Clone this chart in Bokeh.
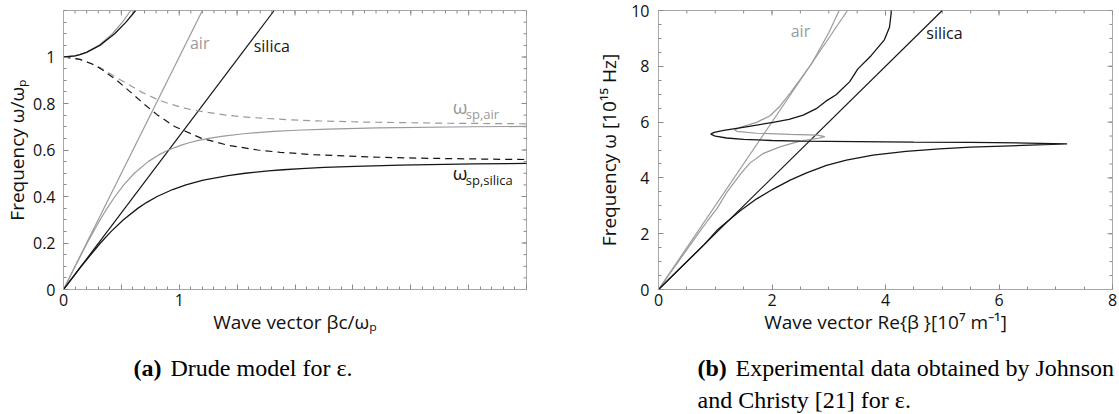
import math
from bokeh.plotting import figure
from bokeh.models import Label, FixedTicker, Range1d
from bokeh.layouts import row, column
from bokeh.embed import file_html
from bokeh.resources import INLINE

# ---------------- data: left panel (Drude model), x = beta c / omega_p, y = omega / omega_p
drude_light_air_x = [0.0, 1.2]
drude_light_air_y = [0.0, 1.2]
drude_light_silica_x = [0.0, 1.82]
drude_light_silica_y = [0.0, 1.2]

drude_spp_air_y = [0, 0.1, 0.2, 0.3, 0.35, 0.4, 0.45, 0.5, 0.55, 0.58, 0.6, 0.62, 0.63, 0.64,
                   0.65, 0.66, 0.67, 0.675, 0.68, 0.685, 0.69, 0.695, 0.70, 0.702]
drude_spp_air_x = [0, 0.1005, 0.2043, 0.316, 0.3773, 0.4446, 0.521, 0.612, 0.731, 0.826, 0.907,
                   1.0117, 1.0775, 1.1565, 1.2546, 1.3816, 1.556, 1.6717, 1.818, 2.0114, 2.284,
                   2.712, 3.535, 4.17]

drude_spp_silica_y = [0, 0.1, 0.2, 0.25, 0.3, 0.35, 0.375, 0.4, 0.43, 0.45, 0.47, 0.49, 0.5,
                      0.51, 0.515, 0.52, 0.525, 0.53, 0.535, 0.54, 0.543]
drude_spp_silica_x = [0, 0.1535, 0.319, 0.412, 0.5177, 0.644, 0.720, 0.809, 0.943, 1.058, 1.208,
                      1.4216, 1.570, 1.768, 1.8955, 2.053, 2.253, 2.522, 2.91, 3.548, 4.208]

drude_im_air_y = [1.0, 0.99, 0.97, 0.95, 0.9, 0.85, 0.82, 0.8, 0.78, 0.77, 0.75, 0.74, 0.73,
                  0.725, 0.72, 0.715, 0.7125]
drude_im_air_x = [0, 0.1425, 0.2511, 0.331, 0.498, 0.671, 0.799, 0.907, 1.048, 1.140, 1.403,
                  1.613, 1.945, 2.206, 2.604, 3.337, 4.04]

drude_im_silica_y = [1.0, 0.99, 0.97, 0.95, 0.9, 0.85, 0.8, 0.75, 0.7, 0.65, 0.62, 0.6, 0.59,
                     0.58, 0.57, 0.565, 0.56, 0.5585]
drude_im_silica_x = [0, 0.1417, 0.2465, 0.320, 0.460, 0.577, 0.690, 0.813, 0.965, 1.193, 1.424,
                     1.679, 1.873, 2.159, 2.644, 3.058, 3.768, 4.10]

drude_upper_y = [1.0, 1.005, 1.01, 1.02, 1.05, 1.1, 1.15, 1.2]
drude_upper_air_x = [0, 0.0996, 0.1404, 0.197, 0.306, 0.423, 0.509, 0.581]
drude_upper_silica_x = [0, 0.0999, 0.1412, 0.199, 0.314, 0.442, 0.540, 0.623]

left_xticks = [0, 0.5, 1, 1.5, 2, 2.5, 3, 3.5, 4]
left_xlabels = ["0", "", "1", "", "", "", "", "", ""]
left_yticks = [0, 0.2, 0.4, 0.6, 0.8, 1.0]
left_ylabels = ["0", "0.2", "0.4", "0.6", "0.8", "1"]

# ---------------- data: right panel (Johnson & Christy), x = Re(beta) [1e7 1/m], y = omega [1e15 Hz]
jc_light_air_x = [0.0, 3.33]
jc_light_air_y = [0.0, 10.0]
jc_light_silica_x = [0.0, 5.0]
jc_light_silica_y = [0.0, 10.0]

jc_spp_silica_x = [0, 0.5, 0.8, 1.03, 1.25, 1.44, 1.73, 2.02, 2.32, 2.61, 2.96, 3.31, 3.78, 4.36,
                   4.95, 5.5, 6.2, 6.8, 7.2,
                   6.5, 5.5, 4.5, 3.5, 2.5, 2.0, 1.5, 1.2, 1.0, 0.92, 0.98, 1.15, 1.32,
                   1.6, 2.02, 2.3, 2.55, 2.78, 2.95, 3.13, 3.37, 3.51, 3.75, 3.98, 4.07, 4.1, 4.1]
jc_spp_silica_y = [0, 1.0, 1.6, 2.12, 2.5, 2.82, 3.25, 3.6, 3.92, 4.18, 4.45, 4.64, 4.82, 4.95,
                   5.04, 5.1, 5.15, 5.19, 5.22,
                   5.25, 5.27, 5.28, 5.3, 5.32, 5.34, 5.38, 5.43, 5.5, 5.57, 5.63, 5.7, 5.76,
                   5.85, 5.99, 6.1, 6.25, 6.48, 6.75, 6.98, 7.45, 7.9, 8.39, 8.95, 9.4, 9.9, 10.2]

jc_spp_air_x = [0, 0.35, 0.7, 0.85, 1.03, 1.2, 1.45, 1.61, 1.85, 2.14, 2.49, 2.84, 2.93,
                2.8, 2.32, 1.73, 1.38, 1.34,
                1.44, 1.73, 1.96, 2.14, 2.32, 2.45, 2.7, 3.0, 3.23]
jc_spp_air_y = [0, 1.0, 2.0, 2.42, 2.9, 3.47, 4.15, 4.53, 4.88, 5.11, 5.32, 5.43, 5.48,
                5.53, 5.56, 5.6, 5.67, 5.72,
                5.81, 5.99, 6.22, 6.57, 7.04, 7.4, 8.1, 9.2, 10.2]

right_xticks = [0, 2, 4, 6, 8]
right_xlabels = ["0", "2", "4", "6", "8"]
right_yticks = [0, 2, 4, 6, 8, 10]
right_ylabels = ["0", "2", "4", "6", "8", "10"]

# ---------------- styling
BLACK = "#161616"
GRAY = "#9a9a9a"
FRAME = "#a8a8a8"
TICK = "#8a8a8a"
SANS = "Open Sans"
SERIF = "Liberation Serif"
DASH = "7 5"


def steps(lo, hi, step):
    n = int(round((hi - lo) / step))
    return [round(lo + i * step, 6) for i in range(n + 1)]


def style_axis(ax, ticks, minor, labels, standoff, title, title_standoff):
    ax.ticker = FixedTicker(ticks=ticks, minor_ticks=minor)
    ax.axis_line_color = FRAME
    ax.major_tick_line_color = TICK
    ax.minor_tick_line_color = TICK
    ax.major_tick_in = 5
    ax.major_tick_out = 0
    ax.minor_tick_in = 3
    ax.minor_tick_out = 0
    ax.major_label_overrides = {t: l for t, l in zip(ticks, labels)}
    ax.major_label_text_font = SANS
    ax.major_label_text_font_size = "16px"
    ax.major_label_text_color = "#111111"
    ax.major_label_standoff = standoff
    ax.axis_label = title
    ax.axis_label_text_font = SANS
    ax.axis_label_text_font_size = "19px"
    ax.axis_label_text_font_style = "normal"
    ax.axis_label_text_color = "#111111"
    ax.axis_label_standoff = title_standoff


def make_fig(width, height, xr, yr, bl, br, bt, bb):
    p = figure(width=width, height=height, x_range=Range1d(*xr), y_range=Range1d(*yr),
               output_backend="svg", toolbar_location=None,
               min_border_left=bl, min_border_right=br, min_border_top=bt, min_border_bottom=bb)
    p.grid.visible = False
    p.outline_line_color = FRAME
    p.background_fill_color = "white"
    p.border_fill_color = "white"
    return p


def frame_ticks(p, xt, xmin, yt, ymin, xmax, ymax):
    # inward ticks on the top and right edges of the frame (mirrors of the axes)
    p.ray(x=xt, y=[ymax] * len(xt), length=5, length_units="screen", angle=-math.pi / 2,
          line_color=TICK, line_width=1)
    p.ray(x=xmin, y=[ymax] * len(xmin), length=3, length_units="screen", angle=-math.pi / 2,
          line_color=TICK, line_width=1)
    p.ray(x=[xmax] * len(yt), y=yt, length=5, length_units="screen", angle=math.pi,
          line_color=TICK, line_width=1)
    p.ray(x=[xmax] * len(ymin), y=ymin, length=3, length_units="screen", angle=math.pi,
          line_color=TICK, line_width=1)


def label(p, x, y, text, size, color=BLACK, font=SANS, align="left", style="normal"):
    p.add_layout(Label(x=x, y=y, text=text, text_font=font, text_font_size=size,
                       text_color=color, text_align=align, text_baseline="middle",
                       text_font_style=style))


TOP_H = 346

# ---------------- left panel
p1 = make_fig(560, TOP_H, (0, 4), (0, 1.2), 61, 34, 5, TOP_H - 291)
l_xminor = steps(0, 4, 0.1)
l_yminor = steps(0, 1.2, 0.05)
style_axis(p1.xaxis[0], left_xticks, l_xminor, left_xlabels, 4, "Wave vector βc/ωₚ", 0)
style_axis(p1.yaxis[0], left_yticks, l_yminor, left_ylabels, 8, "Frequency ω/ωₚ", 0)
frame_ticks(p1, left_xticks, l_xminor, left_yticks, l_yminor, 4, 1.2)

p1.line(drude_light_air_x, drude_light_air_y, line_color=GRAY, line_width=1.2)
p1.line(drude_light_silica_x, drude_light_silica_y, line_color=BLACK, line_width=1.2)
p1.line(drude_im_air_x, drude_im_air_y, line_color=GRAY, line_width=1.2, line_dash=DASH)
p1.line(drude_im_silica_x, drude_im_silica_y, line_color=BLACK, line_width=1.2, line_dash=DASH)
p1.line(drude_spp_air_x, drude_spp_air_y, line_color=GRAY, line_width=1.2)
p1.line(drude_spp_silica_x, drude_spp_silica_y, line_color=BLACK, line_width=1.3)
p1.line(drude_upper_air_x, drude_upper_y, line_color=GRAY, line_width=1.2)
p1.line(drude_upper_silica_x, drude_upper_y, line_color=BLACK, line_width=1.3)


def lx(X):
    return (X - 61) / 116.25


def ly(Y):
    return (291 - Y) / 238.3


label(p1, lx(188), ly(38), "air", "16px", GRAY)
label(p1, lx(252), ly(41), "silica", "16px", BLACK)
label(p1, lx(452), ly(104), "ω", "19px", GRAY)
label(p1, lx(465), ly(111), "sp,air", "13px", GRAY)
label(p1, lx(452), ly(172), "ω", "19px", BLACK)
label(p1, lx(465), ly(179), "sp,silica", "13px", BLACK)

# ---------------- right panel
p2 = make_fig(559, TOP_H, (0, 8), (0, 10), 98, 7, 10, TOP_H - 289)
r_xminor = steps(0, 8, 0.5)
r_yminor = steps(0, 10, 0.5)
style_axis(p2.xaxis[0], right_xticks, r_xminor, right_xlabels, 4, "Wave vector Re{β }[10⁷ m⁻¹]", 0)
style_axis(p2.yaxis[0], right_yticks, r_yminor, right_ylabels, 9, "Frequency ω [10¹⁵ Hz]", 6)
frame_ticks(p2, right_xticks, r_xminor, right_yticks, r_yminor, 8, 10)

p2.line(jc_light_air_x, jc_light_air_y, line_color=GRAY, line_width=1.2)
p2.line(jc_light_silica_x, jc_light_silica_y, line_color=BLACK, line_width=1.2)
p2.line(jc_spp_air_x, jc_spp_air_y, line_color=GRAY, line_width=1.2)
p2.line(jc_spp_silica_x, jc_spp_silica_y, line_color=BLACK, line_width=1.3)

label(p2, 2.33, 9.25, "air", "16px", GRAY)
label(p2, 4.72, 9.2, "silica", "16px", BLACK)

# ---------------- captions
CAP_H = 414 - TOP_H
p3 = figure(width=1119, height=CAP_H, x_range=Range1d(0, 1119), y_range=Range1d(CAP_H, 0),
            x_axis_location=None, y_axis_location=None, output_backend="svg",
            toolbar_location=None, min_border=0)
p3.grid.visible = False
p3.outline_line_color = None

CAP = "24px"
label(p3, 133, 21, "(a)", CAP, "#000000", font=SERIF, style="bold")
label(p3, 170, 21, "Drude model for ε.", CAP, "#000000", font=SERIF)
label(p3, 697, 21, "(b)", CAP, "#000000", font=SERIF, style="bold")
label(p3, 735, 21, "Experimental data obtained by Johnson", CAP, "#000000", font=SERIF)
label(p3, 697, 53, "and Christy [21] for ε.", CAP, "#000000", font=SERIF)

layout = column(row(p1, p2), p3)
open("out.html", "w").write(file_html(layout, INLINE))
